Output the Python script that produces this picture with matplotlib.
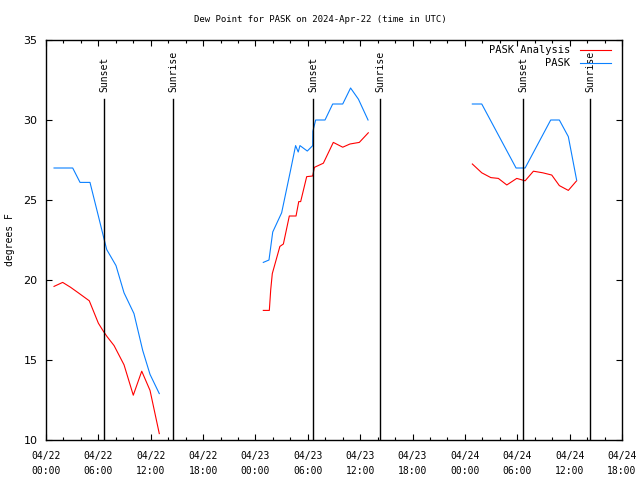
import matplotlib
matplotlib.use("Agg")
import matplotlib.pyplot as plt
import numpy as np
from matplotlib.ticker import MultipleLocator

# ---- data (hours since 2024-04-22 00:00 UTC) ----
pask_h1 = [0.92, 1.95, 3.06, 3.9, 5.04, 6.0, 6.68, 6.96, 8.02, 8.94, 10.08, 11.08, 11.92, 12.98]
pask_v1 = [27.0, 27.0, 27.0, 26.1, 26.1, 24.0, 22.5, 21.9, 20.9, 19.2, 17.9, 15.6, 14.1, 12.9]
pask_h2 = [24.9, 25.55, 25.98, 27.0, 28.0, 28.6, 28.9, 29.1, 29.94, 30.56, 30.58, 30.9, 31.97, 32.85, 34.0, 34.9, 35.8, 36.9]
pask_v2 = [21.1, 21.25, 23.0, 24.2, 26.8, 28.4, 28.0, 28.4, 28.06, 28.4, 29.3, 30.0, 30.0, 31.0, 31.0, 32.0, 31.3, 30.0]
pask_h3 = [48.85, 49.93, 53.86, 54.9, 57.83, 58.82, 59.85, 60.8]
pask_v3 = [31.0, 31.0, 27.0, 27.0, 30.0, 30.0, 28.96, 26.25]

anl_h1 = [0.92, 1.91, 2.8, 3.7, 4.96, 6.0, 6.57, 7.0, 7.8, 8.94, 10.0, 10.97, 11.92, 12.98]
anl_v1 = [19.6, 19.85, 19.55, 19.2, 18.7, 17.3, 16.8, 16.46, 15.9, 14.7, 12.8, 14.3, 13.1, 10.4]
anl_h2 = [24.9, 25.59, 25.75, 25.93, 26.8, 27.2, 27.88, 28.65, 28.96, 29.18, 29.87, 30.56, 30.75, 31.78, 32.92, 34.0, 34.83, 35.9, 36.93]
anl_v2 = [18.1, 18.1, 19.4, 20.4, 22.1, 22.25, 24.0, 24.0, 24.9, 24.9, 26.46, 26.5, 27.04, 27.3, 28.6, 28.3, 28.5, 28.6, 29.2]
anl_h3 = [48.85, 49.93, 50.97, 51.83, 52.8, 53.94, 54.9, 55.85, 56.92, 57.95, 58.82, 59.85, 60.8]
anl_v3 = [27.25, 26.7, 26.4, 26.35, 25.94, 26.35, 26.2, 26.8, 26.7, 26.56, 25.9, 25.6, 26.2]

sun_h = [6.65, 14.55, 30.6, 38.27, 54.66, 62.33]
sun_lbl = ["Sunset", "Sunrise", "Sunset", "Sunrise", "Sunset", "Sunrise"]

xtick_h = [0, 6, 12, 18, 24, 30, 36, 42, 48, 54, 60, 66]
xtick_lbl = ["04/22\n00:00", "04/22\n06:00", "04/22\n12:00", "04/22\n18:00",
             "04/23\n00:00", "04/23\n06:00", "04/23\n12:00", "04/23\n18:00",
             "04/24\n00:00", "04/24\n06:00", "04/24\n12:00", "04/24\n18:00"]

RED = "#ff0000"
BLUE = "#0a80ff"
MONO = "DejaVu Sans Mono"

fig = plt.figure(figsize=(6.4, 4.8), dpi=100)
ax = fig.add_axes([46/640, 40/480, 576/640, 400/480])

lw = 0.8
ax.plot(anl_h1, anl_v1, color=RED, lw=lw, label="PASK Analysis")
ax.plot(anl_h2, anl_v2, color=RED, lw=lw)
ax.plot(anl_h3, anl_v3, color=RED, lw=lw)
ax.plot(pask_h1, pask_v1, color=BLUE, lw=lw, label="PASK")
ax.plot(pask_h2, pask_v2, color=BLUE, lw=lw)
ax.plot(pask_h3, pask_v3, color=BLUE, lw=lw)

for h, s in zip(sun_h, sun_lbl):
    ax.plot([h, h], [10, 31.3], color="black", lw=1.0)
    ax.text(h, 31.75, s, rotation=90, ha="center", va="bottom",
            family=MONO, fontsize=7)

ax.set_xlim(0, 66)
ax.set_ylim(10, 35)
ax.set_xticks(xtick_h)
ax.set_xticklabels(xtick_lbl, family=MONO, fontsize=7, linespacing=1.55)
ax.xaxis.set_minor_locator(MultipleLocator(2))
ax.set_yticks([10, 15, 20, 25, 30, 35])
ax.tick_params(axis="y", labelsize=8, pad=6)
ax.tick_params(axis="x", pad=8)
ax.tick_params(which="major", direction="in", length=4.5, width=0.8,
               top=True, right=True)
ax.tick_params(which="minor", direction="in", length=2.2, width=0.8,
               top=True, right=False)
for sp in ax.spines.values():
    sp.set_linewidth(1.0)

fig.text(10/640, 0.5, "degrees F", rotation=90, ha="center", va="center",
         family=MONO, fontsize=7)
fig.text(0.5, 1 - 20/480, "Dew Point for PASK on 2024-Apr-22 (time in UTC)",
         ha="center", va="center", family=MONO, fontsize=6.5)

leg = ax.legend(loc="upper right", bbox_to_anchor=(0.99, 1.0), frameon=False,
                markerfirst=False, prop={"family": MONO, "size": 7.5},
                handlelength=3.0, handletextpad=0.9, labelspacing=0.3,
                borderaxespad=0.1)

fig.savefig("out.png", dpi=100)
